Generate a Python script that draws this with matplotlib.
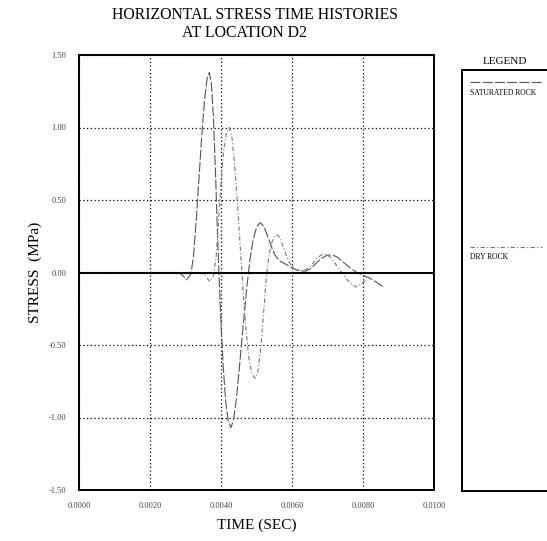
import matplotlib
matplotlib.use("Agg")
import matplotlib.pyplot as plt

# saturated rock (earlier arrival)
sat_t = [0.0, 0.00280, 0.00292, 0.00303, 0.00315, 0.00322, 0.00330, 0.00338, 0.00346, 0.00354,
         0.00361, 0.00367, 0.00373, 0.00379, 0.00385, 0.00390, 0.00395, 0.00400, 0.00406,
         0.00413, 0.00420, 0.00428, 0.00435, 0.00443, 0.00452, 0.00462, 0.00472, 0.00481,
         0.00490, 0.00500, 0.00510, 0.00520, 0.00530, 0.00540, 0.00552, 0.00565, 0.00580,
         0.00595, 0.00610, 0.00625, 0.00640, 0.00655, 0.00670, 0.00685, 0.00700, 0.00713,
         0.00725, 0.00740, 0.00755, 0.00770, 0.00783, 0.00800, 0.00820, 0.00840, 0.00858]
sat_s = [0.0, 0.0, -0.02, -0.05, -0.01, 0.10, 0.35, 0.65, 0.95, 1.20,
         1.34, 1.38, 1.30, 1.05, 0.65, 0.28, -0.05, -0.35, -0.64,
         -0.88, -1.02, -1.07, -1.02, -0.88, -0.65, -0.38, -0.12, 0.08,
         0.22, 0.31, 0.345, 0.32, 0.26, 0.19, 0.12, 0.08, 0.06,
         0.04, 0.02, 0.01, 0.01, 0.03, 0.07, 0.10, 0.12, 0.12,
         0.11, 0.08, 0.05, 0.02, 0.00, -0.02, -0.04, -0.07, -0.10]

# dry rock (later arrival)
dry_t = [0.0, 0.00340, 0.00355, 0.00368, 0.00378, 0.00386, 0.00393, 0.00400, 0.00407, 0.00415,
         0.00423, 0.00431, 0.00439, 0.00447, 0.00455, 0.00462, 0.00470, 0.00478, 0.00487,
         0.00496, 0.00504, 0.00512, 0.00520, 0.00527, 0.00534, 0.00542, 0.00550, 0.00558,
         0.00566, 0.00575, 0.00585, 0.00595, 0.00610, 0.00625, 0.00640, 0.00655, 0.00670,
         0.00685, 0.00697, 0.00710, 0.00725, 0.00740, 0.00755, 0.00768, 0.00780, 0.00795,
         0.00810]
dry_s = [0.0, 0.0, -0.02, -0.06, -0.03, 0.10, 0.35, 0.62, 0.83, 0.96,
         1.00, 0.93, 0.72, 0.45, 0.15, -0.12, -0.38, -0.58, -0.70,
         -0.73, -0.68, -0.52, -0.28, -0.05, 0.10, 0.20, 0.25, 0.26,
         0.24, 0.18, 0.11, 0.06, 0.02, 0.01, 0.02, 0.05, 0.10,
         0.125, 0.125, 0.10, 0.05, 0.00, -0.05, -0.08, -0.10, -0.08,
         -0.05]

x_ticks = [0.0, 0.002, 0.004, 0.006, 0.008, 0.010]
x_labels = ["0.0000", "0.0020", "0.0040", "0.0060", "0.0080", "0.0100"]
y_ticks = [-1.5, -1.0, -0.5, 0.0, 0.5, 1.0, 1.5]
y_labels = ["-1.50", "-1.00", "-0.50", "0.00", "0.50", "1.00", "1.50"]

plt.rcParams['font.family'] = ['Liberation Serif', 'DejaVu Serif']

fig = plt.figure(figsize=(5.47, 5.41), dpi=100)
ax = fig.add_axes([79/547, 51/541, 355/547, 435/541])

ax.plot(sat_t, sat_s, color='#555555', lw=0.8, dashes=(9, 2))
ax.plot(dry_t, dry_s, color='#777777', lw=0.8, dashes=(4, 2, 1, 2))
ax.axhline(0, color='black', lw=1.4)

ax.set_xlim(0, 0.01)
ax.set_ylim(-1.5, 1.5)
ax.set_xticks(x_ticks)
ax.set_xticklabels(x_labels)
ax.set_yticks(y_ticks)
ax.set_yticklabels(y_labels)
ax.tick_params(length=0, labelsize=6, labelcolor='#444444', pad=9)
ax.grid(True, color='black', ls=(0, (1, 2)), lw=0.9)
for s in ax.spines.values():
    s.set_linewidth(1.4)

ax.set_xlabel('TIME (SEC)', fontsize=11, labelpad=6)
ax.set_ylabel('STRESS  (MPa)', fontsize=11, labelpad=5)

fig.text(255/547, 1 - 15/541, 'HORIZONTAL STRESS TIME HISTORIES', ha='center', va='center', fontsize=11.3)
fig.text(244/547, 1 - 33/541, 'AT LOCATION D2', ha='center', va='center', fontsize=11.3)

# legend panel
lg = fig.add_axes([462/547, 50/541, 0.3, 421/541])
lg.set_xlim(0, 1)
lg.set_ylim(0, 1)
lg.set_xticks([])
lg.set_yticks([])
for s in lg.spines.values():
    s.set_linewidth(1.4)
fig.text(505/547, 1 - 62/541, 'LEGEND', ha='center', va='center', fontsize=8)
fig.lines.append(plt.Line2D([470/547, 542/547], [1 - 82/541, 1 - 82/541],
                            transform=fig.transFigure, color='#555555', lw=0.8, dashes=(9, 2)))
fig.text(470/547, 1 - 93/541, 'SATURATED ROCK', ha='left', va='center', fontsize=5.5)
fig.lines.append(plt.Line2D([470/547, 542/547], [1 - 247/541, 1 - 247/541],
                            transform=fig.transFigure, color='#777777', lw=0.8, dashes=(4, 2, 1, 2)))
fig.text(470/547, 1 - 257/541, 'DRY ROCK', ha='left', va='center', fontsize=5.5)

fig.savefig('out.png', dpi=100)
